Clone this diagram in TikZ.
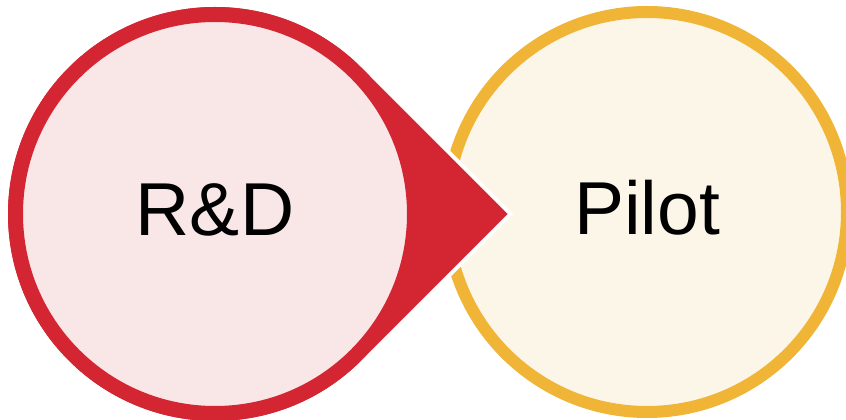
\documentclass[tikz,border=0pt]{standalone}
\usepackage{fontspec}
\setmainfont{Liberation Sans}
\usetikzlibrary{calc}
\definecolor{rdred}{RGB}{212,37,50}
\definecolor{rdpink}{RGB}{249,230,231}
\definecolor{pilotyellow}{RGB}{240,180,55}
\definecolor{pilotcream}{RGB}{252,246,232}
\tikzset{
  stagelabel/.style={inner sep=0,font=\fontsize{75}{90}\selectfont,text depth=9pt},
  rdring/.style={draw=rdred,fill=rdpink,line width=15},
  pilotring/.style={draw=pilotyellow,fill=pilotcream,line width=12}
}
\begin{document}
\begin{tikzpicture}[x=1pt,y=1pt]
\useasboundingbox (0,0) rectangle (846,420);
\coordinate (rdc) at (215,206);
\coordinate (pilotc) at (647,208);
\coordinate (tip) at ($(rdc)+(292.7,0)$);
\draw[pilotring] (pilotc) circle[radius=200];
\fill[rdred,preaction={draw=white,line width=8}] (tip) -- ([shift={(45:207)}]rdc)
  arc[start angle=45,end angle=315,radius=207] -- cycle;
\draw[rdring] (rdc) circle[radius=199.5];
\node[stagelabel] (rd) at (rdc) {R\&D};
\node[stagelabel] (pilot) at (pilotc) {Pilot};
\end{tikzpicture}
\end{document}
